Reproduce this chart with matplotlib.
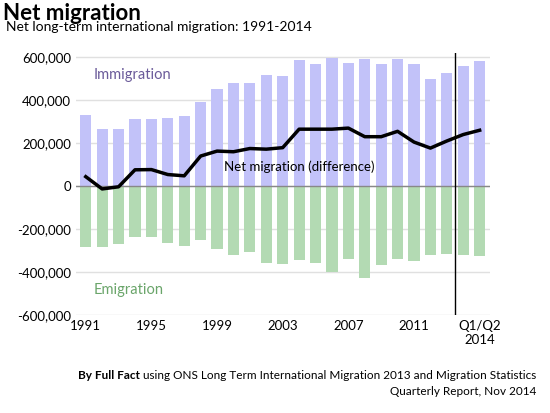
import matplotlib.pyplot as plt
import numpy as np

plt.rcParams['font.family'] = ['Lato', 'DejaVu Sans']

# thousands
immigration = [329, 267, 265, 314, 312, 318, 327, 391, 453, 481, 480, 516, 513,
               589, 567, 596, 574, 590, 567, 591, 566, 498, 526, 560, 583]
emigration = [285, 281, 268, 238, 237, 264, 279, 251, 291, 321, 308, 359, 361,
              344, 359, 399, 341, 427, 368, 339, 350, 321, 316, 320, 323]
net = [44, -13, -3, 76, 77, 54, 48, 140, 163, 160, 175, 172, 179,
       265, 265, 265, 270, 230, 230, 255, 205, 177, 210, 240, 260]
tick_idx = [0, 4, 8, 12, 16, 20, 24]
tick_labels = ['1991', '1995', '1999', '2003', '2007', '2011', 'Q1/Q2\n2014']

x = np.arange(len(immigration))
fig = plt.figure(figsize=(5.5, 4.13), dpi=100)
ax = fig.add_axes([0.138, 0.237, 0.752, 0.635])

ax.bar(x, np.array(immigration) * 1000, width=0.68, color='#c2c2f9', zorder=2)
ax.bar(x, -np.array(emigration) * 1000, width=0.68, color='#b3dab3', zorder=2)
ax.plot(x, np.array(net) * 1000, color='black', lw=2.5, zorder=3)
ax.axhline(0, color='#888888', lw=1, zorder=2.5)
ax.axvline(22.5, color='black', lw=1, zorder=4)

ax.set_ylim(-600000, 620000)
ax.set_xlim(-0.6, 24.6)
yt = np.arange(-600000, 600001, 200000)
ax.set_yticks(yt)
ax.set_yticklabels([f'{v:,}' for v in yt], fontsize=9.5)
ax.set_xticks(tick_idx)
ax.set_xticklabels(tick_labels, fontsize=9.5)
ax.tick_params(length=0)
ax.grid(axis='y', color='#e0e0e0', lw=1, zorder=0)
for s in ax.spines.values():
    s.set_visible(False)

ax.text(0.5, 500000, 'Immigration', color='#6b5b9a', fontsize=10.5)
ax.text(0.5, -500000, 'Emigration', color='#6aa56a', fontsize=10.5)
ax.text(8.4, 70000, 'Net migration (difference)', color='black', fontsize=9.5)

fig.text(0.005, 0.993, 'Net migration', fontsize=16, fontweight='bold', va='top')
fig.text(0.01, 0.935, 'Net long-term international migration: 1991-2014', fontsize=10, va='center')

rest = fig.text(0.975, 0.092, ' using ONS Long Term International Migration 2013 and Migration Statistics',
                fontsize=8.5, ha='right', va='center')
fig.text(0.975, 0.052, 'Quarterly Report, Nov 2014', fontsize=8.5, ha='right', va='center')
fig.canvas.draw()
bb = rest.get_window_extent().transformed(fig.transFigure.inverted())
fig.text(bb.x0, 0.092, 'By Full Fact', fontsize=8.5, fontweight='bold', ha='right', va='center')

fig.savefig('out.png', dpi=100)
